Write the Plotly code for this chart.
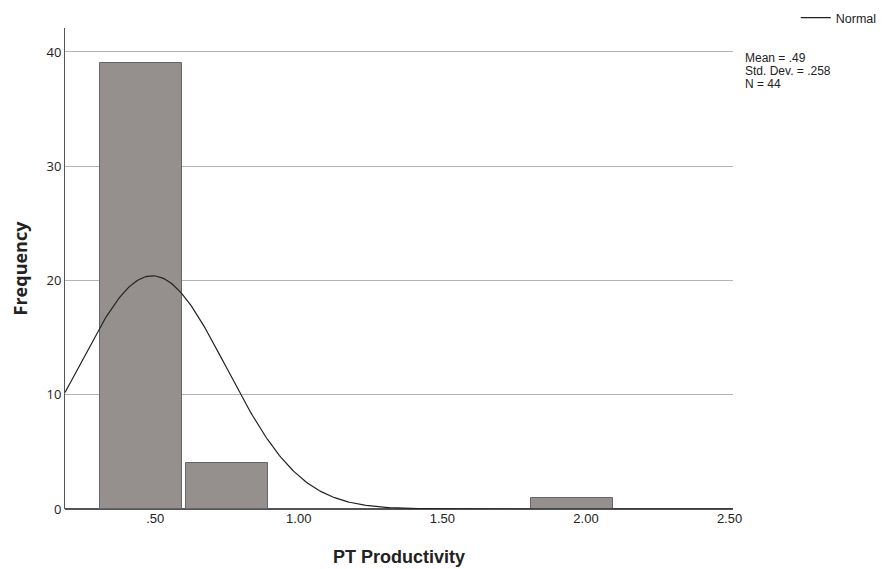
import numpy as np
import plotly.graph_objects as go

# Histogram bins (lower edges, width) and frequencies
bin_lower = [0.30, 0.60, 1.80]
bin_width = 0.30
frequency = [39, 4, 1]

# Summary statistics shown on the chart
mean = 0.49
std_dev = 0.258
n_obs = 44
stat_lines = ["Mean = .49", "Std. Dev. = .258", "N = 44"]

x_ticks = [0.5, 1.0, 1.5, 2.0, 2.5]
x_tick_labels = [".50", "1.00", "1.50", "2.00", "2.50"]
y_ticks = [0, 10, 20, 30, 40]
x_range = [0.186, 2.512]

centers = [b + bin_width / 2 for b in bin_lower]

# Normal curve scaled to frequency counts
xs = np.linspace(x_range[0], x_range[1], 400)
ys = n_obs * bin_width / (std_dev * np.sqrt(2 * np.pi)) * np.exp(-0.5 * ((xs - mean) / std_dev) ** 2)

fig = go.Figure()
fig.add_trace(go.Bar(
    x=centers, y=frequency, width=bin_width * 0.953,
    marker=dict(color="#958f8d", line=dict(color="#666666", width=1)),
    showlegend=False, hoverinfo="x+y",
))
fig.add_trace(go.Scatter(
    x=xs, y=ys, mode="lines", name="Normal",
    line=dict(color="#222222", width=1.2),
))

font_main = "Liberation Sans Narrow, Liberation Sans, Arial"

annotations = []
for i, line in enumerate(stat_lines):
    annotations.append(dict(
        x=1.0, xref="paper", y=1 - (30 + 13 * i) / 481, yref="paper",
        xanchor="left", yanchor="middle", xshift=10, align="left",
        text=line, showarrow=False,
        font=dict(size=12, family="Liberation Sans, Arial", color="#222222"),
    ))

fig.update_layout(
    width=886, height=569,
    margin=dict(l=65, r=153, t=28, b=60, autoexpand=False),
    plot_bgcolor="white", paper_bgcolor="white",
    font=dict(family=font_main, color="#222222", size=13),
    bargap=0,
    showlegend=True,
    legend=dict(x=1.094, xanchor="left", y=1.0 + 10 / 481, yanchor="middle",
                xref="paper", yref="paper",
                font=dict(size=12.5, family="Liberation Sans, Arial", color="#222222"),
                bgcolor="rgba(0,0,0,0)", itemwidth=30),
    xaxis=dict(
        range=x_range, tickvals=x_ticks, ticktext=x_tick_labels,
        showgrid=False, zeroline=False, showline=False,
        ticks="", tickfont=dict(size=13, family=font_main, color="#222222"),
        title=dict(text="<b>PT Productivity</b>", font=dict(size=18, family=font_main, color="#222222"), standoff=25),
    ),
    yaxis=dict(
        range=[0, 42.1], tickvals=y_ticks,
        showgrid=True, gridcolor="#b4b4b4", gridwidth=1,
        zeroline=True, zerolinecolor="#555555", zerolinewidth=1.5,
        showline=True, linecolor="#555555", linewidth=1,
        ticks="", ticklen=0,
        tickfont=dict(size=13, family="Open Sans, Liberation Sans", color="#222222"),
        title=dict(text="<b>Frequency</b>", font=dict(size=18, family="Open Sans, Liberation Sans", color="#222222"), standoff=14),
    ),
    annotations=annotations,
)

fig.write_html("out.html")
